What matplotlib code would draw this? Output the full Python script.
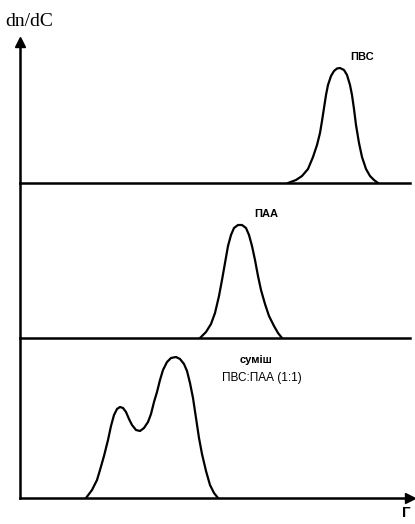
#!/usr/bin/env python3
# -*- coding: utf-8 -*-
"""Gel-permeation curves dn/dC: ПВС, ПАА and their 1:1 mixture."""

import matplotlib
matplotlib.use("Agg")
import matplotlib.pyplot as plt

# ============================
# Data (elution axis in arbitrary units, heights in dn/dC units)
# ============================
pvs_x = [268, 276, 282, 288, 293, 297, 300, 302, 304, 306, 308, 311, 314, 317, 320,
         324, 327, 330, 332, 334, 336, 339, 342, 346, 350, 354, 358]
pvs_h = [0, 3, 7, 14, 26, 38, 50, 62, 75, 88, 98, 107, 112, 114.5, 115,
         113, 108, 98, 88, 74, 58, 40, 26, 14, 7, 3, 0]

paa_x = [180, 186, 191, 195, 199, 202, 205, 208, 211, 214, 218, 222, 226, 229,
         232, 235, 238, 241, 245, 249, 254, 258, 262]
paa_h = [0, 6, 14, 25, 42, 58, 75, 92, 103, 110, 113, 113, 110, 103,
         92, 78, 62, 48, 34, 22, 12, 5, 0]

mix_x = [66, 72, 77, 80, 84, 88, 91, 94, 97, 100, 103, 106, 109, 112, 116, 120,
         124, 128, 131, 134, 137, 140, 143, 147, 151, 156, 160, 164, 167, 170,
         173, 176, 179, 182, 186, 190, 194, 198]
mix_h = [0, 8, 18, 28, 42, 58, 72, 83, 89, 91, 90, 86, 79, 73, 68, 67,
         70, 76, 84, 96, 106, 118, 128, 136, 140, 141, 139, 134, 127, 115,
         100, 80, 60, 44, 27, 13, 5, 0]

# panel: (bottom px, top px)
FIG_W, FIG_H = 415, 524
X0, X1 = 20, 410
PANELS = [(183, 42), (338, 183), (498, 338)]

LW = 1.6
fig = plt.figure(figsize=(FIG_W / 100, FIG_H / 100), dpi=100)
axes = []
for bot, top in PANELS:
    ax = fig.add_axes([X0 / FIG_W, 1 - bot / FIG_H, (X1 - X0) / FIG_W, (bot - top) / FIG_H])
    ax.set_xlim(0, X1 - X0)
    ax.set_ylim(0, bot - top)
    for s in ("top", "right"):
        ax.spines[s].set_visible(False)
    for s in ("left", "bottom"):
        ax.spines[s].set_linewidth(1.8)
        ax.spines[s].set_color("black")
    ax.set_xticks([])
    ax.set_yticks([])
    ax.patch.set_alpha(0)
    axes.append(ax)

ax_top, ax_mid, ax_bot = axes

ax_top.plot(pvs_x, pvs_h, color="black", lw=LW, solid_joinstyle="round")
ax_mid.plot(paa_x, paa_h, color="black", lw=LW, solid_joinstyle="round")
ax_bot.plot(mix_x, mix_h, color="black", lw=LW, solid_joinstyle="round")

# arrows
ax_top.plot(0, 1.0, marker="^", markersize=7, color="black",
            transform=ax_top.transAxes, clip_on=False)
ax_bot.plot(1.0, 0, marker=">", markersize=7, color="black",
            transform=ax_bot.transAxes, clip_on=False)

# labels
fig.text(5 / FIG_W, 1 - 22 / FIG_H, "dn/dC", fontsize=14, family="Liberation Serif",
         ha="left", va="center")
fig.text(362 / FIG_W, 1 - 57 / FIG_H, "ПВС", fontsize=8, family="Liberation Sans",
         fontweight="bold", ha="center", va="center")
fig.text(266 / FIG_W, 1 - 214 / FIG_H, "ПАА", fontsize=8, family="Liberation Sans",
         fontweight="bold", ha="center", va="center")
fig.text(256 / FIG_W, 1 - 360 / FIG_H, "суміш", fontsize=8, family="Liberation Sans",
         fontweight="bold", ha="center", va="center")
fig.text(262 / FIG_W, 1 - 378 / FIG_H, "ПВС:ПАА (1:1)", fontsize=8.5, family="Liberation Sans",
         ha="center", va="center")
fig.text(406 / FIG_W, 1 - 513 / FIG_H, "Г", fontsize=11, family="Liberation Sans",
         fontweight="bold", ha="center", va="center")

fig.savefig("out.png", dpi=100, facecolor="white")
plt.close(fig)
